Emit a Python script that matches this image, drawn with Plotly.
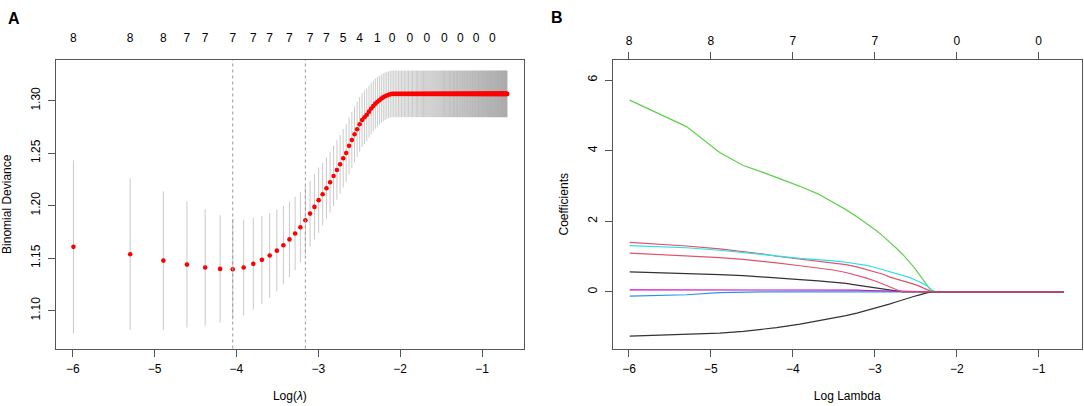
import numpy as np
import plotly.graph_objects as go

# ---- panel A: cross-validated binomial deviance ----
cv_lambda = [
    0.0025, 0.005, 0.0075, 0.01, 0.0125, 0.015, 0.0175, 0.02, 0.0225, 0.025,
    0.0275, 0.03, 0.0325, 0.035, 0.0375, 0.04, 0.0425, 0.045, 0.0475, 0.05,
    0.0525, 0.055, 0.0575, 0.06, 0.0625, 0.065, 0.0675, 0.07, 0.0725, 0.075,
    0.0775, 0.08, 0.0825, 0.085, 0.0875, 0.09, 0.0925, 0.095, 0.0975, 0.1,
    0.1025, 0.105, 0.1075, 0.11, 0.1125, 0.115, 0.1175, 0.12, 0.1225, 0.125,
    0.1275, 0.13, 0.1325, 0.135, 0.1375, 0.14, 0.1425, 0.145, 0.1475, 0.15,
    0.1525, 0.155, 0.1575, 0.16, 0.1625, 0.165, 0.1675, 0.17, 0.1725, 0.175,
    0.1775, 0.18, 0.1825, 0.185, 0.1875, 0.19, 0.1925, 0.195, 0.1975, 0.2,
    0.2025, 0.205, 0.2075, 0.21, 0.2125, 0.215, 0.2175, 0.22, 0.2225, 0.225,
    0.2275, 0.23, 0.2325, 0.235, 0.2375, 0.24, 0.2425, 0.245, 0.2475, 0.25,
    0.2525, 0.255, 0.2575, 0.26, 0.2625, 0.265, 0.2675, 0.27, 0.2725, 0.275,
    0.2775, 0.28, 0.2825, 0.285, 0.2875, 0.29, 0.2925, 0.295, 0.2975, 0.3,
    0.3025, 0.305, 0.3075, 0.31, 0.3125, 0.315, 0.3175, 0.32, 0.3225, 0.325,
    0.3275, 0.33, 0.3325, 0.335, 0.3375, 0.34, 0.3425, 0.345, 0.3475, 0.35,
    0.3525, 0.355, 0.3575, 0.36, 0.3625, 0.365, 0.3675, 0.37, 0.3725, 0.375,
    0.3775, 0.38, 0.3825, 0.385, 0.3875, 0.39, 0.3925, 0.395, 0.3975, 0.4,
    0.4025, 0.405, 0.4075, 0.41, 0.4125, 0.415, 0.4175, 0.42, 0.4225, 0.425,
    0.4275, 0.43, 0.4325, 0.435, 0.4375, 0.44, 0.4425, 0.445, 0.4475, 0.45,
    0.4525, 0.455, 0.4575, 0.46, 0.4625, 0.465, 0.4675, 0.47, 0.4725, 0.475,
    0.4775, 0.48, 0.4825, 0.485, 0.4875, 0.49, 0.4925, 0.495, 0.4975, 0.5,
]

# mean deviance; from lambda index 49 on every coefficient is zero (null model)
cv_mean = [
    1.1607, 1.1537, 1.1476, 1.1438, 1.1410, 1.1397, 1.1394, 1.1410, 1.1445, 1.1483,
    1.1524, 1.1571, 1.1623, 1.1678, 1.1735, 1.1794, 1.1861, 1.1924, 1.1988, 1.2052,
    1.2109, 1.2166, 1.2223, 1.2283, 1.2340, 1.2394, 1.2451, 1.2502, 1.2570, 1.2626,
    1.2680, 1.2728, 1.2775, 1.2816, 1.2842, 1.2866, 1.2896, 1.2926, 1.2950, 1.2972,
    1.2990, 1.3005, 1.3020, 1.3032, 1.3042, 1.3050, 1.3057, 1.3062,
] + [1.3065] * 152

cv_se = [
    0.0825, 0.0722, 0.0660, 0.0600, 0.0556, 0.0512, 0.0480, 0.0454, 0.0437, 0.0419,
    0.0405, 0.0390, 0.0373, 0.0360, 0.0350, 0.0337, 0.0328, 0.0314, 0.0312, 0.0311,
    0.0299, 0.0293, 0.0290, 0.0287, 0.0284, 0.0281, 0.0278, 0.0275, 0.0272, 0.0269,
    0.0266, 0.0263, 0.0260, 0.0257, 0.0254, 0.0251, 0.0248, 0.0245, 0.0242, 0.0239,
    0.0236, 0.0233, 0.0230, 0.0228, 0.0226, 0.0224, 0.0223, 0.0222,
] + [0.0222] * 152

lambda_min = 0.0175
lambda_1se = 0.0425

# number of non-zero coefficients printed along the top of panel A
nzero_lambda = [0.0025, 0.005, 0.0075, 0.01, 0.0125, 0.0175, 0.0225, 0.0275, 0.035, 0.045,
                0.055, 0.0675, 0.0825, 0.1025, 0.1225, 0.1525, 0.1875, 0.2325, 0.2825,
                0.3425, 0.4175]
nzero_count = [8, 8, 8, 7, 7, 7, 7, 7, 7, 7, 7, 5, 4, 1, 0, 0, 0, 0, 0, 0, 0]

# ---- panel B: coefficient paths ----
path_lambda = [0.0025, 0.005, 0.0075, 0.01, 0.0125, 0.015, 0.02, 0.025, 0.03, 0.035,
               0.04, 0.045, 0.05, 0.055, 0.06, 0.065, 0.07, 0.075, 0.08, 0.085,
               0.09, 0.095, 0.1, 0.105, 0.5]
coef_v1 = [0.57, 0.53, 0.49, 0.46, 0.43, 0.40, 0.35, 0.31, 0.28, 0.24,
           0.19, 0.15, 0.11, 0.08, 0.05, 0.02, 0, 0, 0, 0,
           0, 0, 0, 0, 0]
coef_v2 = [1.40, 1.30, 1.22, 1.15, 1.08, 1.01, 0.93, 0.88, 0.82, 0.77,
           0.71, 0.64, 0.57, 0.50, 0.42, 0.37, 0.32, 0.27, 0.22, 0.17,
           0.11, 0.05, 0, 0, 0]
coef_v3 = [5.43, 4.68, 3.95, 3.58, 3.40, 3.24, 2.99, 2.77, 2.54, 2.33,
           2.13, 1.94, 1.76, 1.58, 1.41, 1.23, 1.06, 0.88, 0.71, 0.52,
           0.34, 0.16, 0, 0, 0]
coef_v4 = [-0.12, -0.08, -0.02, 0, 0, 0, 0, 0, 0, 0,
           0, 0, 0, 0, 0, 0, 0, 0, 0, 0,
           0, 0, 0, 0, 0]
coef_v5 = [1.31, 1.25, 1.18, 1.12, 1.07, 1.02, 0.95, 0.92, 0.88, 0.84,
           0.80, 0.75, 0.69, 0.63, 0.57, 0.52, 0.47, 0.42, 0.36, 0.30,
           0.23, 0.15, 0.05, 0, 0]
coef_v6 = [0.06, 0.06, 0.06, 0.065, 0.07, 0.07, 0.07, 0.065, 0.06, 0.055,
           0.05, 0.04, 0.035, 0.025, 0.015, 0.005, 0, 0, 0, 0,
           0, 0, 0, 0, 0]
coef_v7 = [-1.25, -1.21, -1.17, -1.12, -1.07, -1.01, -0.91, -0.82, -0.74, -0.67,
           -0.60, -0.53, -0.46, -0.40, -0.34, -0.28, -0.22, -0.17, -0.13, -0.09,
           -0.05, -0.02, 0, 0, 0]
coef_v8 = [1.10, 1.03, 0.97, 0.92, 0.87, 0.82, 0.74, 0.68, 0.62, 0.55,
           0.47, 0.39, 0.31, 0.23, 0.14, 0.06, 0, 0, 0, 0,
           0, 0, 0, 0, 0]
coef_paths = [coef_v1, coef_v2, coef_v3, coef_v4, coef_v5, coef_v6, coef_v7, coef_v8]
path_colors = ['#333333', '#DF536B', '#61D04F', '#2297E6', '#28E2E5', '#CD0BBC', '#333333', '#DF536B']

top_ticks_b = [-6, -5, -4, -3, -2, -1]
top_count_b = [8, 8, 7, 7, 0, 0]

FONT = 'Liberation Sans, Arial, sans-serif'
FRAME = '#555555'

fig = go.Figure()

fig.add_trace(go.Scatter(
    x=np.log(cv_lambda), y=cv_mean, mode='markers',
    marker=dict(color='#FF0000', size=4.6, line=dict(width=0)),
    error_y=dict(type='data', array=cv_se, visible=True, width=0,
                 thickness=1, color='rgba(150,150,150,0.5)'),
    xaxis='x', yaxis='y', showlegend=False))

for vals, col in zip(coef_paths, path_colors):
    fig.add_trace(go.Scatter(
        x=np.log(path_lambda), y=vals, mode='lines',
        line=dict(color=col, width=1.2),
        xaxis='x2', yaxis='y2', showlegend=False))

# dummy traces so the top axes render
fig.add_trace(go.Scatter(x=[None], y=[None], xaxis='x3', yaxis='y', showlegend=False))
fig.add_trace(go.Scatter(x=[None], y=[None], xaxis='x4', yaxis='y2', showlegend=False))

for lam in [lambda_min, lambda_1se]:
    fig.add_shape(type='line', xref='x', yref='y domain',
                  x0=np.log(lam), x1=np.log(lam), y0=0, y1=1,
                  line=dict(color='#999999', width=1, dash='dot'))

xr_a = [-6.208, -0.487]
xr_b = [-6.199, -0.475]
ydom = [0.1416, 0.8522]

axis_common = dict(showline=True, mirror=True, linecolor=FRAME, linewidth=1,
                   showgrid=False, zeroline=False, ticks='outside', ticklen=7,
                   tickcolor=FRAME, tickfont=dict(size=12, color='#000000'),
                   automargin=False)

fig.update_layout(
    width=1084, height=406,
    margin=dict(l=0, r=0, t=0, b=0),
    paper_bgcolor='white', plot_bgcolor='white',
    font=dict(family=FONT, size=12, color='#000000'),
    xaxis=dict(domain=[0.0514, 0.4834], range=xr_a, anchor='y',
               tickvals=[-6, -5, -4, -3, -2, -1], ticklabelstandoff=2,
               title=dict(text='Log(<i>λ</i>)', font=dict(size=12), standoff=16),
               **axis_common),
    yaxis=dict(domain=ydom, range=[1.0638, 1.3388], anchor='x',
               tickvals=[1.10, 1.15, 1.20, 1.25, 1.30],
               ticktext=['1.10', '1.15', '1.20', '1.25', '1.30'], tickangle=-90,
               ticklabelstandoff=3,
               title=dict(text='Binomial Deviance', font=dict(size=12), standoff=14),
               **axis_common),
    xaxis3=dict(overlaying='x', side='top', anchor='y', range=xr_a,
                tickvals=np.log(nzero_lambda), ticktext=[str(c) for c in nzero_count],
                ticks='outside', ticklen=12, tickcolor='rgba(0,0,0,0)',
                showline=False, showgrid=False, zeroline=False, automargin=False,
                tickfont=dict(size=12, color='#000000')),
    xaxis2=dict(domain=[0.5652, 0.9979], range=xr_b, anchor='y2',
                tickvals=[-6, -5, -4, -3, -2, -1], ticklabelstandoff=2,
                title=dict(text='Log Lambda', font=dict(size=12), standoff=16),
                **axis_common),
    yaxis2=dict(domain=ydom, range=[-1.603, 6.567], anchor='x2',
                tickvals=[0, 2, 4, 6], tickangle=-90, ticklabelstandoff=3,
                title=dict(text='Coefficients', font=dict(size=12), standoff=14),
                **axis_common),
    xaxis4=dict(overlaying='x2', side='top', anchor='y2', range=xr_b,
                tickvals=top_ticks_b, ticktext=[str(c) for c in top_count_b],
                ticks='outside', ticklen=7, tickcolor=FRAME, ticklabelstandoff=2,
                showline=False, showgrid=False, zeroline=False, automargin=False,
                tickfont=dict(size=12, color='#000000')),
    annotations=[
        dict(text='<b>A</b>', x=0.0127, y=0.955, xref='paper', yref='paper',
             xanchor='center', yanchor='middle',
             showarrow=False, font=dict(size=16, color='#000000')),
        dict(text='<b>B</b>', x=0.514, y=0.958, xref='paper', yref='paper',
             xanchor='center', yanchor='middle',
             showarrow=False, font=dict(size=16, color='#000000')),
    ],
)

# drop the browser's default 8px body margin so the figure sits at the page corner
fig.write_html('out.html', config={'displayModeBar': False},
               post_script="document.body.style.margin='0';")
